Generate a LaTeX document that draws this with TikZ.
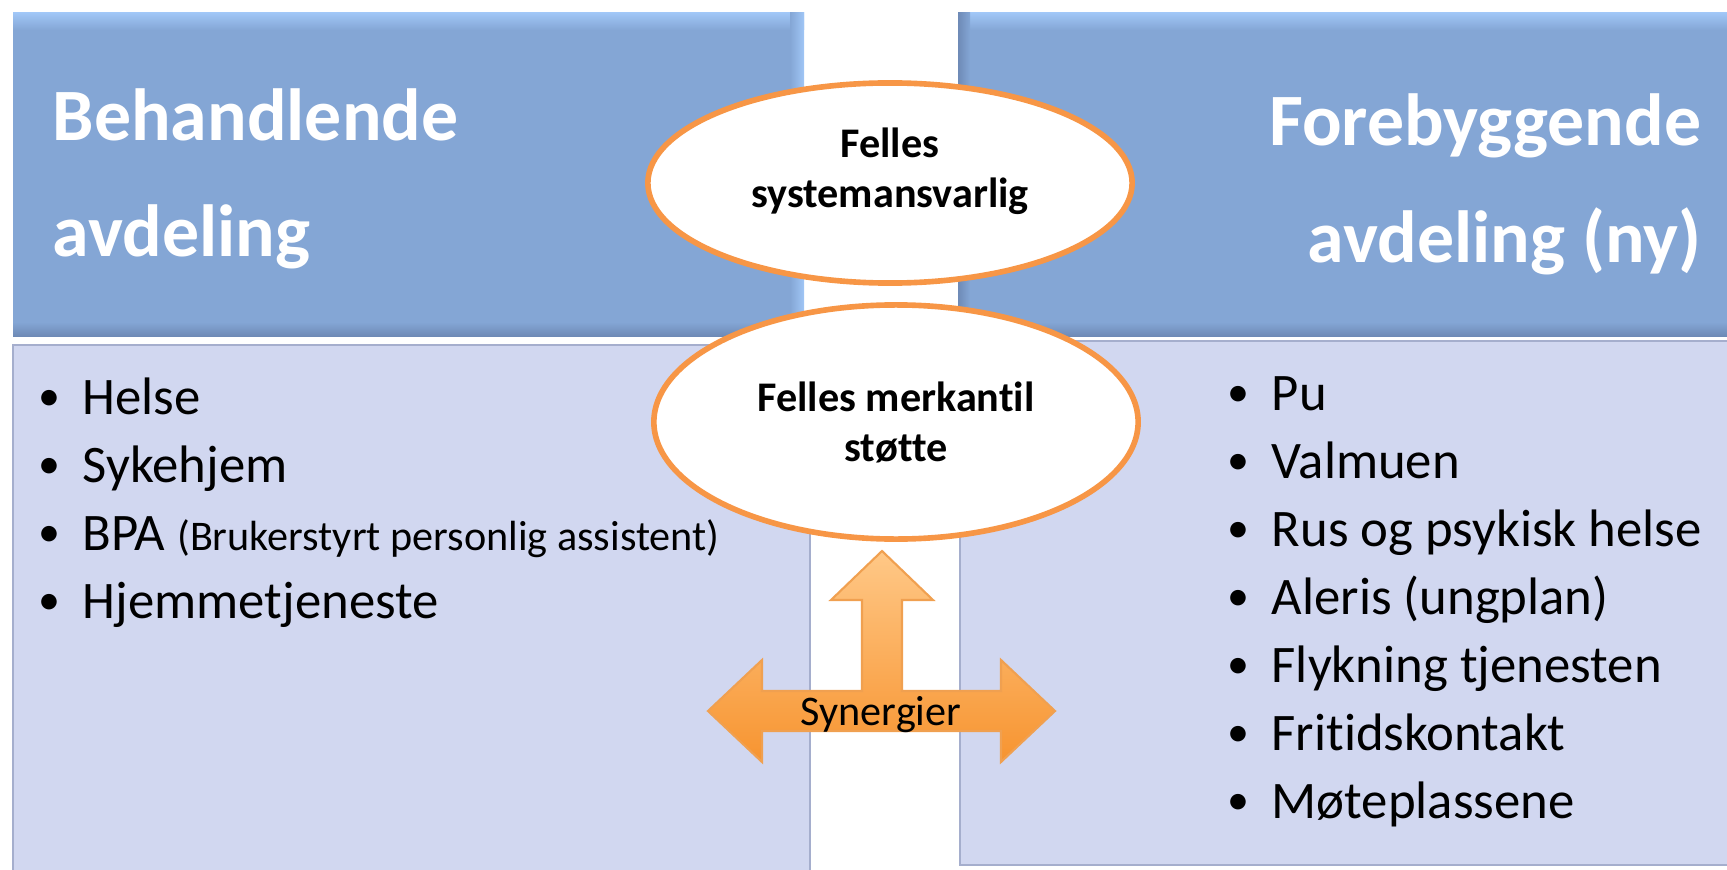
\documentclass[tikz,border=0pt]{standalone}
\usepackage{fontspec}
\setmainfont[Ligatures={NoCommon}]{Carlito}
\usetikzlibrary{shapes.geometric}

\definecolor{headblue}{RGB}{132,166,213}
\definecolor{headlight}{RGB}{160,198,246}
\definecolor{headdark}{RGB}{110,138,182}
\definecolor{bodyblue}{RGB}{209,215,240}
\definecolor{bodyline}{RGB}{165,174,205}
\definecolor{ringorange}{RGB}{247,150,70}
\definecolor{arrowlight}{RGB}{255,200,135}
\definecolor{arrowdark}{RGB}{247,148,48}
\definecolor{arrowline}{RGB}{240,160,80}

\newcommand{\listdot}{\makebox[0.44cm][l]{\raisebox{1.1pt}{\fontsize{12.5}{12.5}\selectfont•}}}

\begin{document}
\begin{tikzpicture}[x=0.01cm, y=-0.01cm,
    headtext/.style={text=white, font=\fontsize{21}{25}\bfseries, inner sep=0pt},
    item/.style={anchor=base west, inner sep=0pt, font=\fontsize{15}{18}\selectfont},
    bubble/.style={ellipse, draw=ringorange, line width=1.6pt, fill=white, inner sep=0pt, minimum width=4.84cm},
    bubbletext/.style={align=center, inner sep=0pt, font=\fontsize{12}{14.2}\bfseries}]

	\useasboundingbox (0,0) rectangle (1727,870);

	% header boxes
	\fill [headblue] (13,13) rectangle (804,336);
	\shade [top color=headlight, bottom color=headblue] (13,13) rectangle (804,30);
	\shade [top color=headblue, bottom color=headdark] (13,322) rectangle (804,336);
	\shade [left color=headblue, right color=headlight] (790,13) rectangle (804,336);
	\fill [headblue] (958,13) rectangle (1727,336);
	\shade [top color=headlight, bottom color=headblue] (958,13) rectangle (1727,30);
	\shade [top color=headblue, bottom color=headdark] (958,322) rectangle (1727,336);
	\shade [left color=headdark, right color=headblue] (958,13) rectangle (970,336);

	\node [headtext, anchor=base west] (beh1) at (52,141) {Behandlende};
	\node [headtext, anchor=base west] (beh2) at (52,256) {avdeling};
	\node [headtext, anchor=base east] (fore1) at (1702,146) {Forebyggende};
	\node [headtext, anchor=base east] (fore2) at (1702,262) {avdeling (ny)};

	% body boxes
	\draw [bodyline, fill=bodyblue] (13,345) rectangle (810,875);
	\draw [bodyline, fill=bodyblue] (960,341) rectangle (1732,865);

	\foreach \t [count=\i] in {Helse, Sykehjem, {BPA {\fontsize{12}{14}\selectfont(Brukerstyrt personlig assistent)}}, Hjemmetjeneste}
		\node [item] (left\i) at (38,346+68*\i) {\listdot\t};

	\foreach \t [count=\i] in {Pu, Valmuen, Rus og psykisk helse, Aleris (ungplan), Flykning tjenesten, Fritidskontakt, Møteplassene}
		\node [item] (right\i) at (1227,342+68*\i) {\listdot\t};

	% shared roles
	\node [bubble, minimum height=2cm] (sys) at (890,183) {};
	\node [bubbletext] (systxt) at ([yshift=0.12cm]sys.center) {Felles\\systemansvarlig};
	\node [bubble, minimum height=2.34cm] (merk) at (896,422) {};
	\node [bubbletext] (merktxt) at (merk.center) {Felles merkantil\\støtte};

	% synergy arrow
	\draw [arrowline, line width=0.6pt, top color=arrowlight, bottom color=arrowdark]
		(708,711) -- (762,660) -- (762,691) -- (862,691) -- (862,600) -- (831,600) -- (882,551)
		-- (933,600) -- (902,600) -- (902,691) -- (1001,691) -- (1001,660) -- (1055,711)
		-- (1001,762) -- (1001,731) -- (762,731) -- (762,762) -- cycle;
	\node [anchor=base, inner sep=0pt, font=\fontsize{12}{14}\selectfont] (syn) at (881,725) {Synergier};
\end{tikzpicture}
\end{document}
